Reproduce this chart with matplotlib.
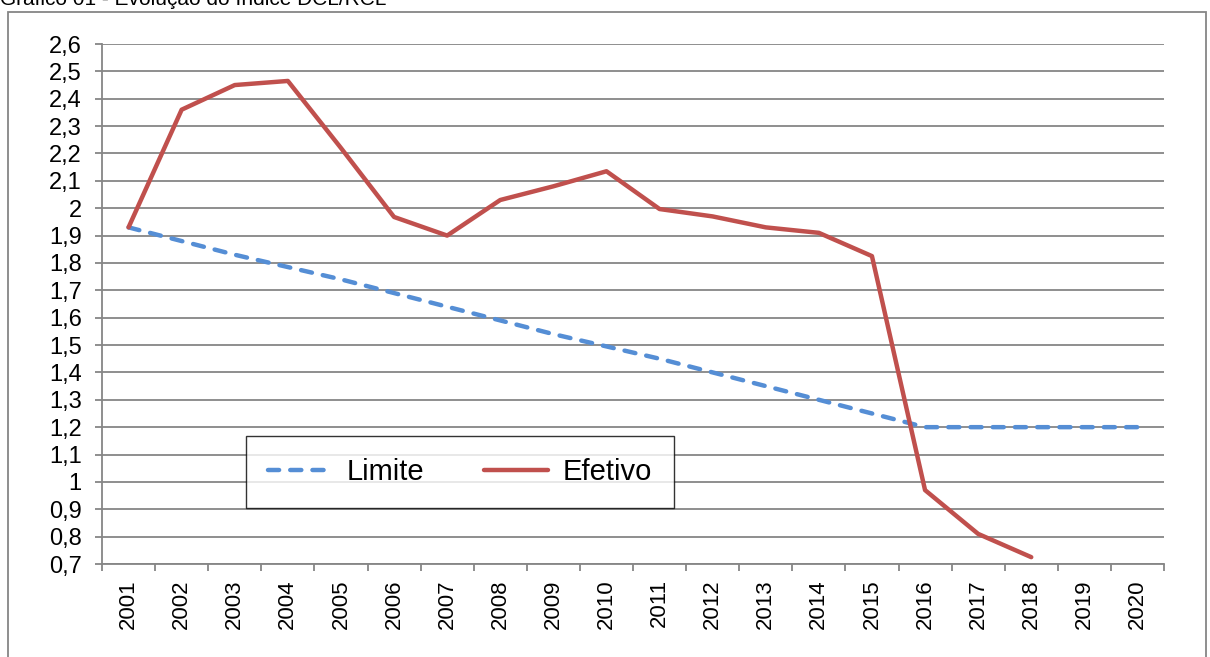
import matplotlib.pyplot as plt
import matplotlib.ticker as mticker
from matplotlib.patches import Rectangle

plt.rcParams['font.family'] = ['Liberation Sans', 'DejaVu Sans']

# Data
ANOS = [str(a) for a in range(2001, 2021)]
LIMITE = [1.93, 1.88, 1.83, 1.785, 1.74, 1.69, 1.64, 1.59, 1.54, 1.495,
          1.45, 1.40, 1.35, 1.30, 1.25, 1.20, 1.20, 1.20, 1.20, 1.20]
EFETIVO = [1.93, 2.36, 2.45, 2.465, 2.22, 1.968, 1.90, 2.03, 2.08, 2.135,
           1.997, 1.97, 1.93, 1.91, 1.825, 0.97, 0.81, 0.725]
Y_TICKS = [round(0.7 + 0.1 * i, 1) for i in range(20)]

GRID = "#868686"
BLUE = "#558ED5"
RED = "#C0504D"

W, H = 1210, 657
fig = plt.figure(figsize=(W / 100, H / 100), dpi=100)
ax = fig.add_axes([102 / W, 1 - 564 / H, (1164 - 102) / W, (564 - 44) / H])

# outer frame + title (partly cut off at the top)
fig.patches.append(Rectangle((8 / W, -0.05), (1206 - 8) / W, 1.05 - 12 / H,
                             transform=fig.transFigure, fill=False,
                             edgecolor=GRID, linewidth=1.3))
fig.text(0.0, 1 - 5 / H, "Gráfico 01 - Evolução do Índice DCL/RCL",
         fontsize=15, va="baseline", ha="left")

x = list(range(len(ANOS)))
ax.plot(x[:len(LIMITE)], LIMITE, color=BLUE, linewidth=3.2,
        linestyle=(0, (2.5, 2.5)), dash_capstyle="round", label="Limite")
ax.plot(x[:len(EFETIVO)], EFETIVO, color=RED, linewidth=3.2,
        solid_capstyle="round", solid_joinstyle="round", label="Efetivo")

ax.set_xlim(-0.5, len(ANOS) - 0.5)
ax.set_ylim(0.7, 2.6)

# y axis
ax.set_yticks(Y_TICKS)
ax.yaxis.set_major_formatter(mticker.FuncFormatter(
    lambda v, _: f"{v:g}".replace(".", ",")))
ax.yaxis.grid(True, color=GRID, linewidth=1.3)
ax.set_axisbelow(True)
ax.tick_params(axis="y", length=5, width=1.3, color=GRID, pad=9.5,
               labelsize=17)

# x axis: ticks at category boundaries, labels centered
ax.set_xticks([i - 0.5 for i in range(len(ANOS) + 1)])
ax.set_xticklabels([])
ax.set_xticks(x, minor=True)
ax.set_xticklabels(ANOS, minor=True, rotation=90, fontsize=16)
ax.tick_params(axis="x", which="major", length=5, width=1.3, color=GRID)
ax.tick_params(axis="x", which="minor", length=0, pad=11)

for s in ["top", "right"]:
    ax.spines[s].set_visible(False)
for s in ["left", "bottom"]:
    ax.spines[s].set_color(GRID)
    ax.spines[s].set_linewidth(1.3)

leg = ax.legend(loc="center", ncol=2, fontsize=21, frameon=True,
                fancybox=False, edgecolor="black", borderpad=0.75,
                handlelength=2.2, handletextpad=0.5, columnspacing=1.3,
                bbox_to_anchor=(246 / W, 1 - 508 / H, 428 / W, 72 / H),
                bbox_transform=fig.transFigure, borderaxespad=0,
                mode="expand")
leg.get_frame().set_linewidth(1.0)

fig.savefig("out.png", dpi=100)
